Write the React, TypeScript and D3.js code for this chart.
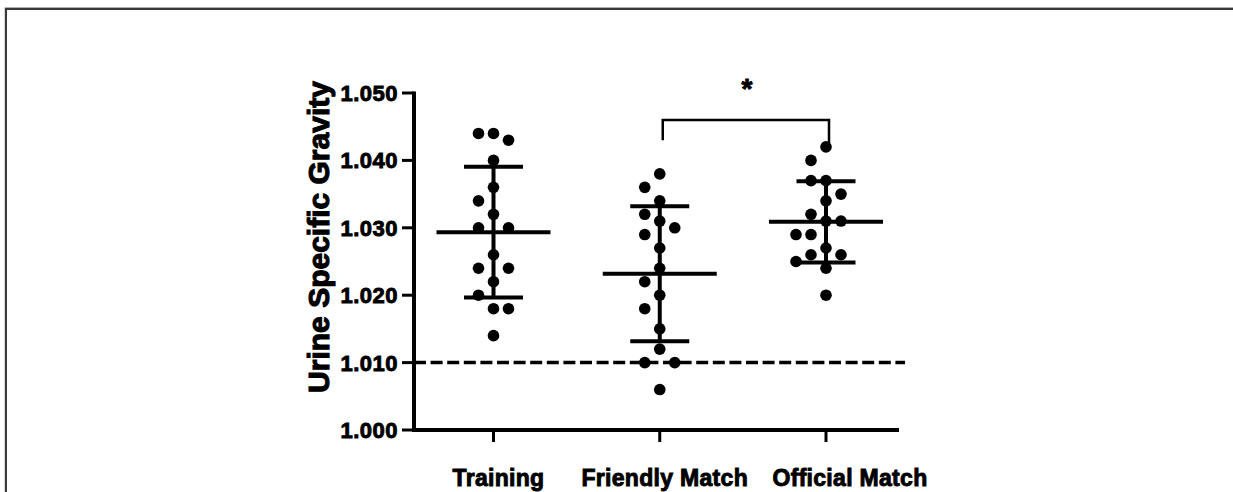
import React, { useEffect } from 'react';
import * as d3 from 'd3';

// ---- data ----
const categories = ['Training', 'Friendly Match', 'Official Match'];
const trainingValues = [1.044, 1.044, 1.043, 1.040, 1.036, 1.034, 1.032, 1.030, 1.030, 1.026, 1.024, 1.024, 1.022, 1.020, 1.018, 1.018, 1.014];
const friendlyValues = [1.038, 1.036, 1.034, 1.032, 1.031, 1.030, 1.029, 1.027, 1.024, 1.022, 1.020, 1.018, 1.015, 1.012, 1.010, 1.010, 1.006];
const officialValues = [1.042, 1.040, 1.037, 1.037, 1.035, 1.034, 1.032, 1.031, 1.031, 1.029, 1.029, 1.027, 1.026, 1.026, 1.025, 1.024, 1.020];
const yTicks = [1.0, 1.01, 1.02, 1.03, 1.04, 1.05];
const referenceValue = 1.01;
const comparisonPair = ['Friendly Match', 'Official Match'];
const comparisonLabel = '*';
const yLabel = 'Urine Specific Gravity';

const seriesValues = [trainingValues, friendlyValues, officialValues];

const W = 1233;
const H = 492;
const FONT = '"Liberation Sans", Arial, Helvetica, sans-serif';

const x = d3.scalePoint<string>().domain(categories).range([493.5, 826]);
const y = d3.scaleLinear().domain([1.0, 1.05]).range([430, 93]);

// label nudges (layout of the category labels under the axis, as in the reference)
const labelNudge: Record<string, number> = { Training: 5, 'Friendly Match': 5, 'Official Match': 24 };

const DOT_R = 5.8;
const LANE = 15;
const MIN_GAP = 14;
const laneOrder = [0, -1, 1, -2, 2, -3, 3];

function swarm(values: number[]) {
  const placed: { lane: number; py: number }[] = [];
  const sorted = values.map((v, i) => ({ v, i })).sort((a, b) => b.v - a.v);
  return sorted.map(({ v }) => {
    const py = y(v);
    let lane = 0;
    for (const l of laneOrder) {
      if (!placed.some((p) => p.lane === l && Math.abs(p.py - py) < MIN_GAP)) {
        lane = l;
        break;
      }
    }
    placed.push({ lane, py });
    return { v, lane, py };
  });
}

const boldText = { fontWeight: 'bold' as const, fill: '#000', stroke: '#000', strokeWidth: 0.9 };

export default function App() {
  useEffect(() => {
    document.body.style.margin = '0';
    document.body.style.overflow = 'hidden';
  }, []);
  const xAxisEnd = 899;
  const yAxisX = 414;
  const [cA, cB] = comparisonPair;
  const bracketTop = y(1.046);
  const bracketBottom = y(1.043);
  return (
    <svg
      width={W}
      height={H}
      style={{ position: 'absolute', left: 0, top: 0, background: '#fff', display: 'block' }}
      fontFamily={FONT}
    >
      <rect x={0} y={0} width={W} height={H} fill="#fff" />
      {/* frame */}
      <path d={`M5,${H} V7.5 H${W + 5}`} fill="none" stroke="#b0b0b0" strokeWidth={1} />
      <path d={`M6,${H} V9 H${W + 5}`} fill="none" stroke="#3a3a3a" strokeWidth={2} />

      {/* reference dashed line */}
      <line
        x1={yAxisX}
        x2={905}
        y1={y(referenceValue)}
        y2={y(referenceValue)}
        stroke="#000"
        strokeWidth={3.5}
        strokeDasharray="12,4.6"
      />

      {/* dots */}
      {seriesValues.map((vals, gi) => {
        const cx = x(categories[gi]) as number;
        return swarm(vals).map((p, i) => (
          <circle key={`${gi}-${i}`} cx={cx + p.lane * LANE} cy={p.py} r={DOT_R} fill="#000" />
        ));
      })}

      {/* mean and SD */}
      {seriesValues.map((vals, gi) => {
        const cx = x(categories[gi]) as number;
        const m = d3.mean(vals) as number;
        const sd = d3.deviation(vals) as number;
        return (
          <g key={`ms-${gi}`} stroke="#000">
            <line x1={cx} x2={cx} y1={y(m + sd)} y2={y(m - sd)} strokeWidth={4} />
            <line x1={cx - 57} x2={cx + 57} y1={y(m)} y2={y(m)} strokeWidth={4} />
            <line x1={cx - 29.5} x2={cx + 29.5} y1={y(m + sd)} y2={y(m + sd)} strokeWidth={4} />
            <line x1={cx - 29.5} x2={cx + 29.5} y1={y(m - sd)} y2={y(m - sd)} strokeWidth={4} />
          </g>
        );
      })}

      {/* y axis */}
      <line x1={yAxisX} x2={yAxisX} y1={y(1.05) - 1.5} y2={y(1.0) + 2} stroke="#000" strokeWidth={4} />
      {yTicks.map((t) => (
        <g key={`yt-${t}`}>
          <line x1={402} x2={yAxisX} y1={y(t)} y2={y(t)} stroke="#000" strokeWidth={3} />
          <text
            x={398}
            y={y(t)}
            dy="0.36em"
            textAnchor="end"
            fontSize={22}
            letterSpacing={0.5}
            {...boldText}
          >
            {d3.format('.3f')(t)}
          </text>
        </g>
      ))}
      <text
        transform={`translate(329, 237) rotate(-90)`}
        textAnchor="middle"
        fontSize={30}
        {...boldText}
        strokeWidth={1.1}
      >
        {yLabel}
      </text>

      {/* x axis */}
      <line x1={yAxisX - 2} x2={xAxisEnd} y1={y(1.0)} y2={y(1.0)} stroke="#000" strokeWidth={4} />
      {categories.map((c) => (
        <g key={`xt-${c}`}>
          <line x1={x(c) as number} x2={x(c) as number} y1={y(1.0)} y2={442} stroke="#000" strokeWidth={3} />
          <text
            x={(x(c) as number) + labelNudge[c]}
            y={486}
            textAnchor="middle"
            fontSize={23}
            letterSpacing={0.3}
            {...boldText}
          >
            {c}
          </text>
        </g>
      ))}

      {/* significance bracket */}
      <path
        d={`M${(x(cA) as number) + 3},${bracketBottom} V${bracketTop} H${(x(cB) as number) + 3} V${bracketBottom + 3}`}
        fill="none"
        stroke="#000"
        strokeWidth={2.5}
      />
      <text
        x={((x(cA) as number) + (x(cB) as number)) / 2 + 4}
        y={98}
        textAnchor="middle"
        fontSize={28}
        {...boldText}
      >
        {comparisonLabel}
      </text>
    </svg>
  );
}
